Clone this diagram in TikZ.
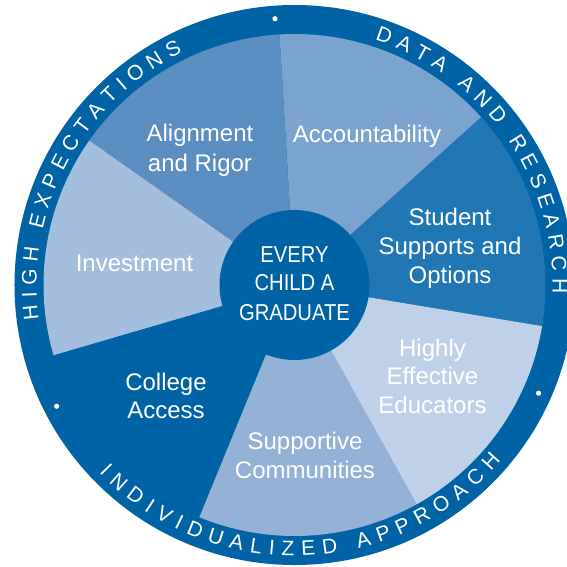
\documentclass[tikz,border=0pt]{standalone}
\usepackage{fontspec}
\setmainfont{Liberation Sans}
\newfontfamily\centerfont[FakeStretch=0.88]{Liberation Sans}
\newcommand\ringfont{\fontsize{21}{21}\selectfont}
\newcommand\labfont{\fontsize{24}{29}\selectfont}
\newcommand\ctrfont{\centerfont\fontsize{23}{29}\selectfont}
\definecolor{ringblue}{RGB}{0,99,166}
\definecolor{cStudent}{RGB}{32,119,180}
\definecolor{cAccount}{RGB}{122,164,206}
\definecolor{cAlign}{RGB}{91,142,193}
\definecolor{cInvest}{RGB}{164,190,221}
\definecolor{cSupport}{RGB}{147,178,214}
\definecolor{cHighly}{RGB}{191,209,232}
% advance widths (per 1000 em) of the capitals used in the ring
\expandafter\def\csname cw@A\endcsname{667}
\expandafter\def\csname cw@C\endcsname{722}
\expandafter\def\csname cw@D\endcsname{722}
\expandafter\def\csname cw@E\endcsname{667}
\expandafter\def\csname cw@G\endcsname{778}
\expandafter\def\csname cw@H\endcsname{722}
\expandafter\def\csname cw@I\endcsname{278}
\expandafter\def\csname cw@L\endcsname{556}
\expandafter\def\csname cw@N\endcsname{722}
\expandafter\def\csname cw@O\endcsname{778}
\expandafter\def\csname cw@P\endcsname{667}
\expandafter\def\csname cw@R\endcsname{722}
\expandafter\def\csname cw@S\endcsname{667}
\expandafter\def\csname cw@T\endcsname{611}
\expandafter\def\csname cw@U\endcsname{722}
\expandafter\def\csname cw@V\endcsname{667}
\expandafter\def\csname cw@X\endcsname{667}
\expandafter\def\csname cw@Z\endcsname{611}
\expandafter\def\csname cw@-\endcsname{278}
\def\ringspacemark{-}
\def\ringtrack{7}
\def\ringmid{265}
\def\ringsize{21}
% #1 letters, #2 centre angle, #3 direction (1 ccw, -1 cw), #4 name prefix, #5 baseline radius
\newcommand\ringtext[5]{%
  \xdef\ringtotal{0}%
  \foreach \ch in {#1}{%
    \pgfmathsetmacro\ringtmp{\ringtotal+\csname cw@\ch\endcsname*\ringsize/1000+\ringtrack}%
    \xdef\ringtotal{\ringtmp}%
  }%
  \pgfmathsetmacro\ringtmp{-(\ringtotal-\ringtrack)/2}%
  \xdef\ringpos{\ringtmp}%
  \foreach \ch [count=\i] in {#1}{%
    \pgfmathsetmacro\ringw{\csname cw@\ch\endcsname*\ringsize/1000}%
    \pgfmathsetmacro\ringang{#2+(#3)*(\ringpos+\ringw/2)/\ringmid*180/pi}%
    \pgfmathsetmacro\ringrot{\ringang+(#3)*90}%
    \ifx\ch\ringspacemark\else
      \node[ringletter,rotate=\ringrot,anchor=base] (#4\i) at (\ringang:#5pt) {\ch};%
    \fi
    \pgfmathsetmacro\ringtmp{\ringpos+\ringw+\ringtrack}%
    \xdef\ringpos{\ringtmp}%
  }%
}
\newcommand\segwedge[3]{\fill[#3] (0,0) -- (#1:251pt) arc[start angle=#1, end angle=#2, radius=251pt] -- cycle;}
\begin{document}
\begin{tikzpicture}[x=1pt,y=1pt,
  ringletter/.style={font=\ringfont, text=white, inner sep=0pt},
  lab/.style={font=\labfont, text=white, inner sep=0pt, anchor=base},
  ctr/.style={font=\ctrfont, text=white, inner sep=0pt, anchor=base},
  ringdot/.style={fill=white}]
\useasboundingbox (-294.5,-281) rectangle (272.5,285);
\fill[white] (-294.5,-281) rectangle (272.5,285);
\clip (-294.5,-281) rectangle (272.5,285);
% outer ring
\fill[ringblue] (0,0) circle[radius=280pt];
% seven segments
\segwedge{-9.4286}{42}{cStudent}
\segwedge{42}{93.4286}{cAccount}
\segwedge{93.4286}{144.8571}{cAlign}
\segwedge{144.8571}{196.2857}{cInvest}
\segwedge{196.2857}{247.7143}{ringblue}
\segwedge{247.7143}{299.1429}{cSupport}
\segwedge{299.1429}{350.5714}{cHighly}
% centre
\fill[ringblue] (0,0) circle[radius=75pt];
\node[ctr] (c1) at (0,22.7) {EVERY};
\node[ctr] (c2) at (0,-5) {CHILD A};
\node[ctr] (c3) at (0,-35) {GRADUATE};
% segment labels
\node[lab] (al1) at (-94.5,143.3) {Alignment};
\node[lab] (al2) at (-94.5,113.3) {and Rigor};
\node[lab] (ac1) at (72.5,142.3) {Accountability};
\node[lab] (st1) at (155.5,60) {Student};
\node[lab] (st2) at (155.5,31) {Supports and};
\node[lab] (st3) at (155.5,2) {Options};
\node[lab] (in1) at (-160,13.3) {Investment};
\node[lab] (co1) at (-128.5,-105) {College};
\node[lab] (co2) at (-128.5,-133.7) {Access};
\node[lab] (su1) at (10.5,-164) {Supportive};
\node[lab] (su2) at (10.5,-193) {Communities};
\node[lab] (hi1) at (138,-71) {Highly};
\node[lab] (hi2) at (138,-99.3) {Effective};
\node[lab] (hi3) at (138,-128) {Educators};
% ring dots
\fill[ringdot] (94.2:267pt) circle[radius=2.6pt];
\fill[ringdot] (-23.9:267pt) circle[radius=2.6pt];
\fill[ringdot] (207:267pt) circle[radius=2.6pt];
% ring texts
\ringtext{H,I,G,H,-,E,X,P,E,C,T,A,T,I,O,N,S}{151.7}{-1}{hx}{258}
\ringtext{D,A,T,A,-,A,N,D,-,R,E,S,E,A,R,C,H}{35}{-1}{dr}{258}
\ringtext{I,N,D,I,V,I,D,U,A,L,I,Z,E,D,-,A,P,P,R,O,A,C,H}{271.75}{1}{ia}{271}
\end{tikzpicture}
\end{document}
